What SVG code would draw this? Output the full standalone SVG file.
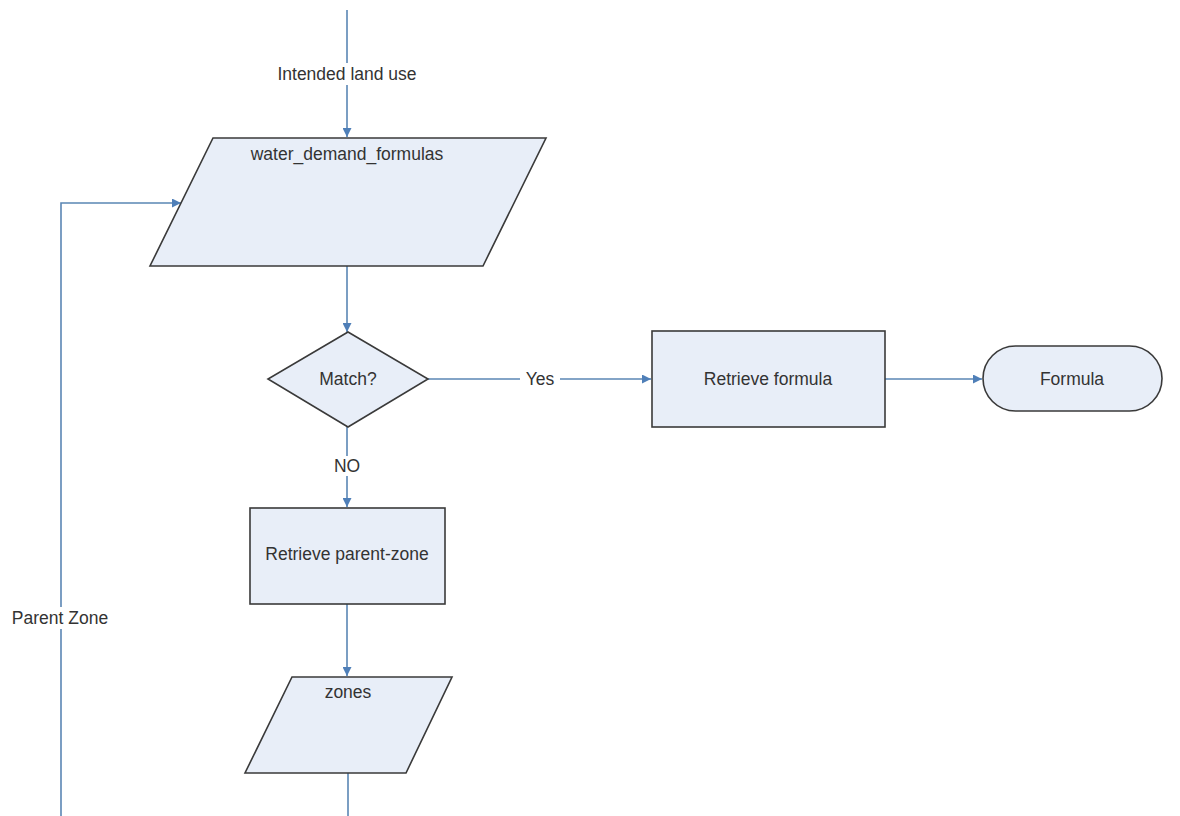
<svg xmlns="http://www.w3.org/2000/svg" width="1180" height="816" viewBox="0 0 1180 816">
  <style>
    .shape { fill: #e8eef8; stroke: #3a3a3a; stroke-width: 1.6; }
    .conn { fill: none; stroke: #5a86b4; stroke-width: 1.6; }
    .lbl { font-family: "Liberation Sans", Arial, sans-serif; font-size: 17.5px; fill: #333333; text-anchor: middle; }
    .bg { fill: #ffffff; }
  </style>
  <defs>
    <marker id="arrow" viewBox="0 0 10 10" refX="10" refY="5" markerWidth="10" markerHeight="9" markerUnits="userSpaceOnUse" orient="auto">
      <path d="M0,0 L10,5 L0,10 z" fill="#4f7fb8"/>
    </marker>
  </defs>
  <rect width="1180" height="816" fill="#ffffff"/>

  <!-- connectors -->
  <g id="connectors">
    <path class="conn" d="M347,10 L347,137" marker-end="url(#arrow)"/>
    <path class="conn" d="M61,816 L61,203 L181,203" marker-end="url(#arrow)"/>
    <path class="conn" d="M347,266 L347,332" marker-end="url(#arrow)"/>
    <path class="conn" d="M428,379 L651,379" marker-end="url(#arrow)"/>
    <path class="conn" d="M885,379 L982,379" marker-end="url(#arrow)"/>
    <path class="conn" d="M347,427 L347,507" marker-end="url(#arrow)"/>
    <path class="conn" d="M347,604 L347,676" marker-end="url(#arrow)"/>
    <path class="conn" d="M348,773 L348,816"/>

    <!-- connector labels on white backing -->
    <rect class="bg" x="272" y="63" width="150" height="22"/>
    <text class="lbl" x="347" y="80">Intended land use</text>
    <rect class="bg" x="520" y="369" width="40" height="20"/>
    <text class="lbl" x="540" y="385">Yes</text>
    <rect class="bg" x="326" y="456" width="42" height="20"/>
    <text class="lbl" x="347" y="472">NO</text>
    <rect class="bg" x="8" y="607" width="104" height="22"/>
    <text class="lbl" x="60" y="624">Parent Zone</text>
  </g>

  <g id="water_demand_formulas">
    <polygon class="shape" points="213,138 546,138 483,266 150,266"/>
    <text class="lbl" x="347" y="160">water_demand_formulas</text>
  </g>

  <g id="match">
    <polygon class="shape" points="348,332 428,379 348,427 268,379"/>
    <text class="lbl" x="348" y="385">Match?</text>
  </g>

  <g id="retrieve_formula">
    <rect class="shape" x="652" y="331" width="233" height="96"/>
    <text class="lbl" x="768" y="385">Retrieve formula</text>
  </g>

  <g id="formula">
    <rect class="shape" x="983" y="346" width="179" height="65" rx="32.5" ry="32.5"/>
    <text class="lbl" x="1072" y="385">Formula</text>
  </g>

  <g id="retrieve_parent_zone">
    <rect class="shape" x="250" y="508" width="195" height="96"/>
    <text class="lbl" x="347" y="560">Retrieve parent-zone</text>
  </g>

  <g id="zones">
    <polygon class="shape" points="292,677 452,677 406,773 245,773"/>
    <text class="lbl" x="348" y="698">zones</text>
  </g>
</svg>
